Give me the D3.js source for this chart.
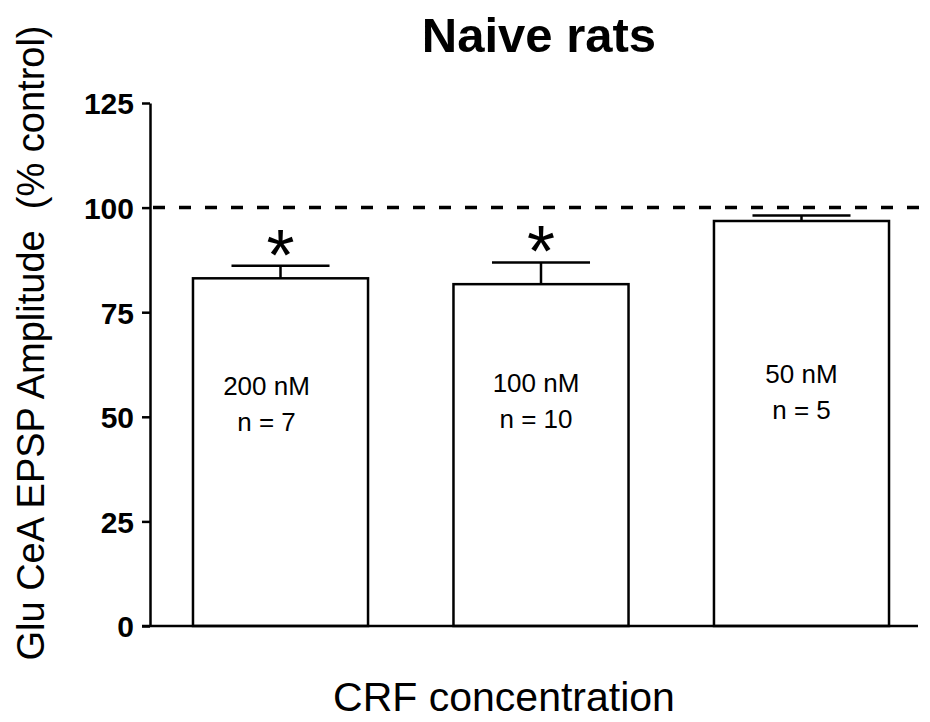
<!DOCTYPE html>
<html>
<head>
<meta charset="utf-8">
<script src="https://cdn.jsdelivr.net/npm/d3@7"></script>
<style>
    body { margin: 0; background: #fff; }
    #chart-container { width: 930px; height: 722px; }
    .bar-axis path, .bar-axis line { stroke: #000; stroke-width: 2.5px; }
    .bar-axis text { font-family: 'Liberation Sans', Arial, sans-serif; font-weight: bold; font-size: 30px; fill: #000; }
</style>
</head>
<body>
<div id="chart-container"></div>
<script>
//data
var concentrations = ['200 nM', '100 nM', '50 nM'],
    nValues = [7, 10, 5],
    meanValues = [83.1, 81.7, 96.8],
    semValues = [3.0, 5.2, 1.3],
    significant = [true, true, false],
    yTickValues = [0, 25, 50, 75, 100, 125],
    controlLevel = 100;

//layout tweaks for the labels inside the bars
var labelNudge = [[-14, 0], [-5, -3], [0, -12]];

//containers
var chartContainer = d3.select('#chart-container'),
    chartSvg;

//sizes
var outerW = 930,
    outerH = 722,
    plotLeft = 150,
    plotRight = 918,
    plotTop = 103,
    plotBottom = 626;

//scales
var xScale,
    yScale;

function setupChart() {
    xScale = d3.scaleBand()
        .domain(concentrations)
        .range([plotLeft, 932])
        .paddingInner(0.328)
        .paddingOuter(0.165);

    yScale = d3.scaleLinear()
        .domain([0, 125])
        .range([plotBottom, plotTop]);

    buildChart();
}

function buildChart() {
    chartSvg = chartContainer.append('svg')
        .attr('width', outerW)
        .attr('height', outerH);

    //title
    chartSvg.append('text')
        .attr('x', 539)
        .attr('y', 52)
        .attr('text-anchor', 'middle')
        .style('font-family', "'Liberation Sans', Arial, sans-serif")
        .style('font-weight', 'bold')
        .style('font-size', '49px')
        .text('Naive rats');

    //bars
    var barData = concentrations.map(function(c, i) {
        return {conc: c, n: nValues[i], mean: meanValues[i], sem: semValues[i], sig: significant[i], i: i};
    });

    var barG = chartSvg.selectAll('.bar-g')
        .data(barData)
        .enter()
        .append('g')
        .attr('class', 'bar-g');

    barG.append('rect')
        .attr('x', function(d) { return xScale(d.conc); })
        .attr('y', function(d) { return yScale(d.mean); })
        .attr('width', xScale.bandwidth())
        .attr('height', function(d) { return yScale(0) - yScale(d.mean); })
        .attr('fill', '#fff')
        .attr('stroke', '#000')
        .attr('stroke-width', 2.5);

    var capHalf = xScale.bandwidth() * 0.28;

    //error bars (upper only)
    barG.append('line')
        .attr('x1', function(d) { return xScale(d.conc) + xScale.bandwidth() / 2; })
        .attr('x2', function(d) { return xScale(d.conc) + xScale.bandwidth() / 2; })
        .attr('y1', function(d) { return yScale(d.mean); })
        .attr('y2', function(d) { return yScale(d.mean + d.sem); })
        .attr('stroke', '#000')
        .attr('stroke-width', 2.5);

    barG.append('line')
        .attr('x1', function(d) { return xScale(d.conc) + xScale.bandwidth() / 2 - capHalf; })
        .attr('x2', function(d) { return xScale(d.conc) + xScale.bandwidth() / 2 + capHalf; })
        .attr('y1', function(d) { return yScale(d.mean + d.sem); })
        .attr('y2', function(d) { return yScale(d.mean + d.sem); })
        .attr('stroke', '#000')
        .attr('stroke-width', 2.5);

    //asterisks
    barG.filter(function(d) { return d.sig; })
        .append('text')
        .attr('x', function(d) { return xScale(d.conc) + xScale.bandwidth() / 2; })
        .attr('y', function(d) { return yScale(d.mean + d.sem) + 14; })
        .attr('text-anchor', 'middle')
        .style('font-family', "'Liberation Sans', Arial, sans-serif")
        .style('font-size', '72px')
        .text('*');

    //labels inside the bars
    var labelG = barG.append('text')
        .attr('text-anchor', 'middle')
        .style('font-family', "'Liberation Sans', Arial, sans-serif")
        .style('font-size', '26px');

    labelG.append('tspan')
        .attr('x', function(d) { return xScale(d.conc) + xScale.bandwidth() / 2 + labelNudge[d.i][0]; })
        .attr('y', function(d) { return 395 + labelNudge[d.i][1]; })
        .text(function(d) { return d.conc; });

    labelG.append('tspan')
        .attr('x', function(d) { return xScale(d.conc) + xScale.bandwidth() / 2 + labelNudge[d.i][0]; })
        .attr('y', function(d) { return 431 + labelNudge[d.i][1]; })
        .text(function(d) { return 'n = ' + d.n; });

    //control line
    chartSvg.append('line')
        .attr('x1', plotLeft + 3)
        .attr('x2', 922)
        .attr('y1', yScale(controlLevel))
        .attr('y2', yScale(controlLevel))
        .attr('stroke', '#000')
        .attr('stroke-width', 3.5)
        .attr('stroke-dasharray', '12,14');

    //axes
    var yAxis = d3.axisLeft(yScale)
        .tickValues(yTickValues)
        .tickSize(8)
        .tickPadding(8)
        .tickSizeOuter(0);

    chartSvg.append('g')
        .attr('class', 'bar-axis')
        .attr('transform', 'translate(' + plotLeft + ', 0)')
        .call(yAxis)
        .selectAll('text')
        .attr('dy', '0.36em');

    chartSvg.append('line')
        .attr('x1', plotLeft - 8)
        .attr('x2', plotRight)
        .attr('y1', plotBottom)
        .attr('y2', plotBottom)
        .attr('stroke', '#000')
        .attr('stroke-width', 2.5);

    //axis titles
    chartSvg.append('text')
        .attr('x', 504)
        .attr('y', 711)
        .attr('text-anchor', 'middle')
        .style('font-family', "'Liberation Sans', Arial, sans-serif")
        .style('font-size', '41px')
        .text('CRF concentration');

    chartSvg.append('text')
        .attr('transform', 'translate(44, 343) rotate(-90)')
        .attr('text-anchor', 'middle')
        .style('font-family', "'Liberation Sans', Arial, sans-serif")
        .style('font-size', '38px')
        .style('white-space', 'pre')
        .text('Glu CeA EPSP Amplitude  (% control)');
}

setupChart();
</script>
</body>
</html>
